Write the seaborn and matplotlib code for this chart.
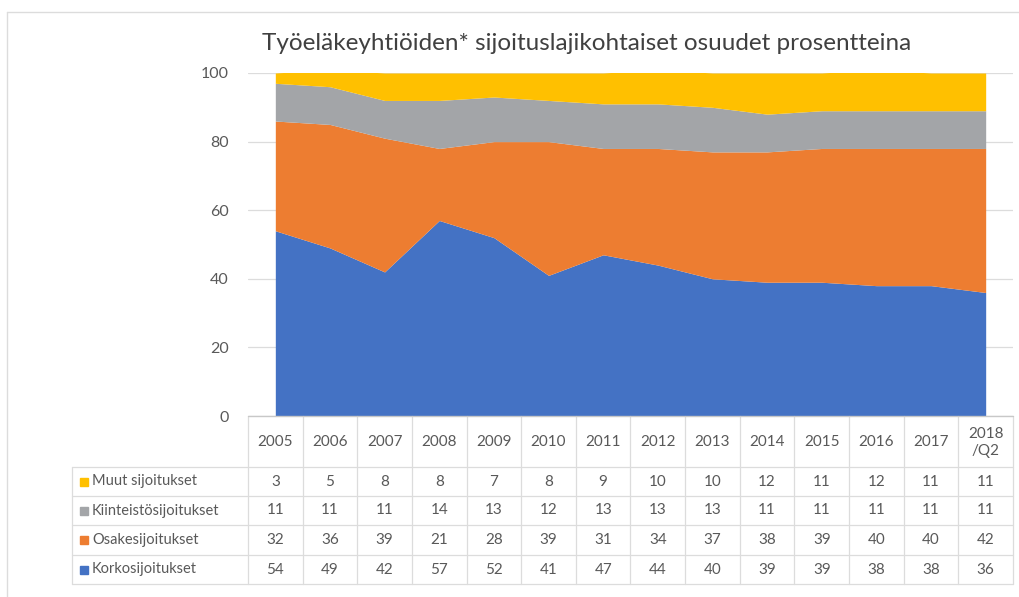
import numpy as np
import matplotlib
matplotlib.use("Agg")
import matplotlib.pyplot as plt
import matplotlib.transforms as mtransforms
import seaborn as sns

# data
years = ["2005", "2006", "2007", "2008", "2009", "2010", "2011", "2012",
         "2013", "2014", "2015", "2016", "2017", "2018\n/Q2"]
muut = [3, 5, 8, 8, 7, 8, 9, 10, 10, 12, 11, 12, 11, 11]
kiinteisto = [11, 11, 11, 14, 13, 12, 13, 13, 13, 11, 11, 11, 11, 11]
osake = [32, 36, 39, 21, 28, 39, 31, 34, 37, 38, 39, 40, 40, 42]
korko = [54, 49, 42, 57, 52, 41, 47, 44, 40, 39, 39, 38, 38, 36]

series_names = ["Muut sijoitukset", "Kiinteistösijoitukset", "Osakesijoitukset", "Korkosijoitukset"]
series_vals = [muut, kiinteisto, osake, korko]
colors = ["#FFC000", "#A3A5A8", "#ED7D31", "#4472C4"]

sns.set_style("white")
plt.rcParams["font.family"] = ["Lato", "DejaVu Sans"]
txt = "#595959"
grid = "#dcdcdc"

W, H = 1019, 597
fig = plt.figure(figsize=(W / 100, H / 100), dpi=100)

# main area chart
L, R, T, B = 248, 1013, 73, 416
ax = fig.add_axes([L / W, 1 - B / H, (R - L) / W, (B - T) / H])
x = np.arange(len(years))
ax.stackplot(x, korko, osake, kiinteisto, muut,
             colors=[colors[3], colors[2], colors[1], colors[0]], linewidth=0)
ax.set_xlim(-0.5, len(years) - 0.5)
ax.set_ylim(0, 100)
ax.set_yticks(range(0, 101, 20))
ax.set_xticks([])
ax.yaxis.grid(True, color=grid, linewidth=0.9)
ax.set_axisbelow(True)
ax.tick_params(axis="y", length=0, pad=14, labelsize=11.5, labelcolor=txt)
sns.despine(ax=ax, left=True, top=True, right=True, bottom=True)

fig.text(587 / W, 1 - 44 / H, "Työeläkeyhtiöiden* sijoituslajikohtaiset osuudet prosentteina",
         ha="center", va="center", fontsize=17.5, color="#404040")

# overlay in pixel coords for the data table
tab = fig.add_axes([0, 0, 1, 1], zorder=5)
tab.set_xlim(0, W)
tab.set_ylim(H, 0)
tab.axis("off")
bt = mtransforms.blended_transform_factory(ax.transData, tab.transData)

hdr_top, hdr_bot = 416, 467
row_edges = [467, 496, 525, 555, 584]
leg_left = 72

# outer frame
tab.plot([7, W], [12, 12], color=grid, lw=1)
tab.plot([7, 7], [12, H], color=grid, lw=1)

# table lines
for i in range(len(years) + 1):
    tab.plot([i - 0.5, i - 0.5], [hdr_top, row_edges[-1]], color=grid, lw=0.9, transform=bt)
tab.plot([-0.5, len(years) - 0.5], [hdr_top, hdr_top], color="#c8c8c8", lw=1, transform=bt)
for y in row_edges:
    tab.plot([leg_left, R], [y, y], color=grid, lw=0.9)
tab.plot([leg_left, leg_left], [row_edges[0], row_edges[-1]], color=grid, lw=0.9)

# headers
for i, yr in enumerate(years):
    tab.text(i, (hdr_top + hdr_bot) / 2 + 1, yr, transform=bt, ha="center", va="center",
             fontsize=11, color=txt, linespacing=1.3)

# rows
for r, (name, vals, c) in enumerate(zip(series_names, series_vals, colors)):
    yc = (row_edges[r] + row_edges[r + 1]) / 2
    tab.plot([84], [yc], marker="s", markersize=6, color=c, linestyle="none")
    tab.text(92, yc, name, ha="left", va="center", fontsize=10.5, color=txt)
    for i, v in enumerate(vals):
        tab.text(i, yc, str(v), transform=bt, ha="center", va="center", fontsize=11, color=txt)

fig.savefig("out.png", dpi=100)
